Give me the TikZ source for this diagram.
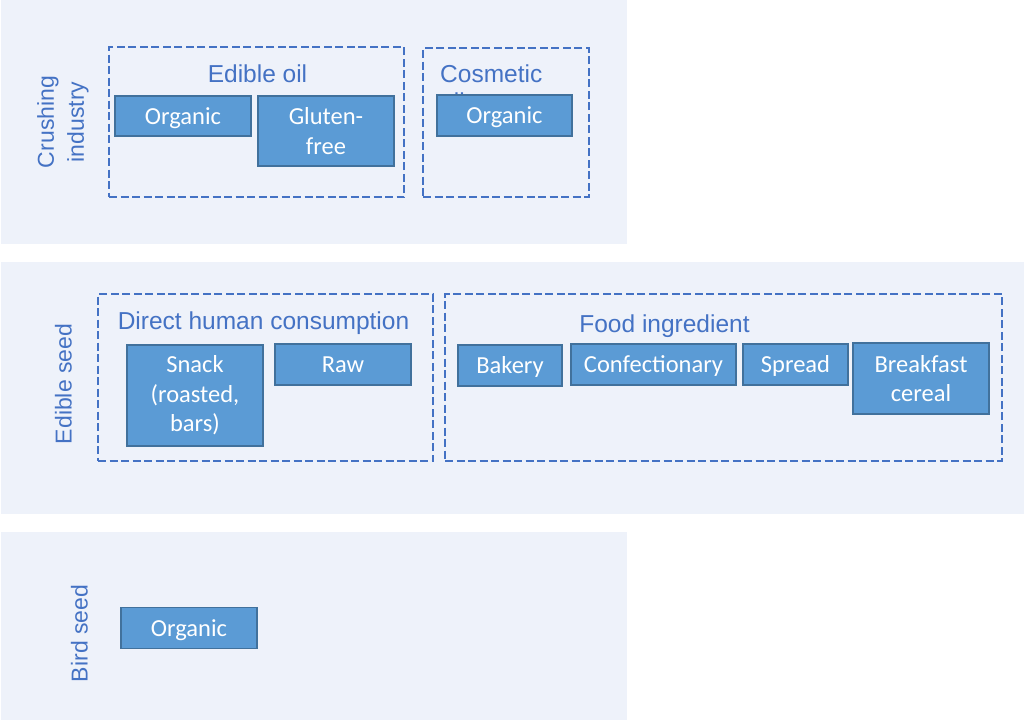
\documentclass[tikz,border=0pt]{standalone}
\usepackage{fontspec}
\setmainfont{Carlito}
\newfontfamily\arialf{Liberation Sans}
\definecolor{bandfill}{HTML}{EEF2FA}
\definecolor{dashblue}{HTML}{4472C4}
\definecolor{boxfill}{HTML}{5B9BD5}
\definecolor{boxedge}{HTML}{41719C}
\tikzset{
  band/.style={fill=bandfill, draw=none, inner sep=0pt},
  group/.style={draw=dashblue, line width=2.75pt, dash pattern=on 8pt off 3.5pt, inner sep=0pt},
  item/.style={draw=boxedge, line width=1.2pt, fill=boxfill, text=white, inner sep=0pt,
    align=center, font=\fontsize{24.5}{29.5}\selectfont},
  single/.style={item, text height=16pt, text depth=0pt},
  grouptitle/.style={text=dashblue, inner sep=0pt, font=\arialf\fontsize{24.5}{28}\selectfont},
  sidelabel/.style={text=dashblue, inner sep=0pt, rotate=90, align=center,
    font=\arialf\fontsize{23}{30}\selectfont}
}
\begin{document}
\begin{tikzpicture}[x=1pt,y=-1pt]
\useasboundingbox (0,0) rectangle (1024,720);
\fill[white] (0,0) rectangle (1024,720);
% bands
\node[band, minimum width=626pt, minimum height=244pt] (band1) at (314,122) {};
\node[band, minimum width=1023pt, minimum height=252pt] (band2) at (512.5,388) {};
\node[band, minimum width=626pt, minimum height=188pt] (band3) at (314,626) {};
% side labels
\node[sidelabel] (lcrush) at (63,122) {Crushing\\industry};
\node[sidelabel] (lseed) at (63.5,384) {Edible seed};
\node[sidelabel] (lbird) at (79.5,633.5) {Bird seed};
% group boxes
\node[group, minimum width=295pt, minimum height=150pt] (goil) at (256.5,122) {};
\node[group, minimum width=166pt, minimum height=149pt] (gcos) at (506,122.5) {};
\node[group, minimum width=335pt, minimum height=167pt] (gdhc) at (265.5,377.5) {};
\node[group, minimum width=557pt, minimum height=167pt] (gfood) at (723.5,377.5) {};
% group titles
\node[grouptitle, anchor=base] (toil) at (257.5,82) {Edible oil};
\node[grouptitle, anchor=base west, align=left] (tcos) at (440,110) {Cosmetic\\oil};
\node[grouptitle, anchor=base] (tdhc) at (263.5,329) {Direct human consumption};
\node[grouptitle, anchor=base] (tfood) at (664.5,332) {Food ingredient};
% items
\node[single, minimum width=136pt, minimum height=40pt] (org1) at (183,116) {Organic};
\node[item, minimum width=136pt, minimum height=70pt] (gluten) at (326,131) {Gluten-\\free};
\node[single, minimum width=135pt, minimum height=41pt] (org2) at (504.5,115.5) {Organic};
\node[item, minimum width=136pt, minimum height=101pt] (snack) at (195,395.5) {Snack\\(roasted,\\bars)};
\node[single, minimum width=136pt, minimum height=41pt] (raw) at (343,364.5) {Raw};
\node[single, minimum width=104pt, minimum height=41pt] (bakery) at (510,365.5) {Bakery};
\node[single, minimum width=165pt, minimum height=41pt] (conf) at (653.5,364.5) {Confectionary};
\node[single, minimum width=105pt, minimum height=41pt] (spread) at (795.5,364.5) {Spread};
\node[item, minimum width=136pt, minimum height=71pt] (cereal) at (921,378.5) {Breakfast\\cereal};
\node[single, minimum width=136pt, minimum height=41pt] (org3) at (189,628) {Organic};
\end{tikzpicture}
\end{document}
